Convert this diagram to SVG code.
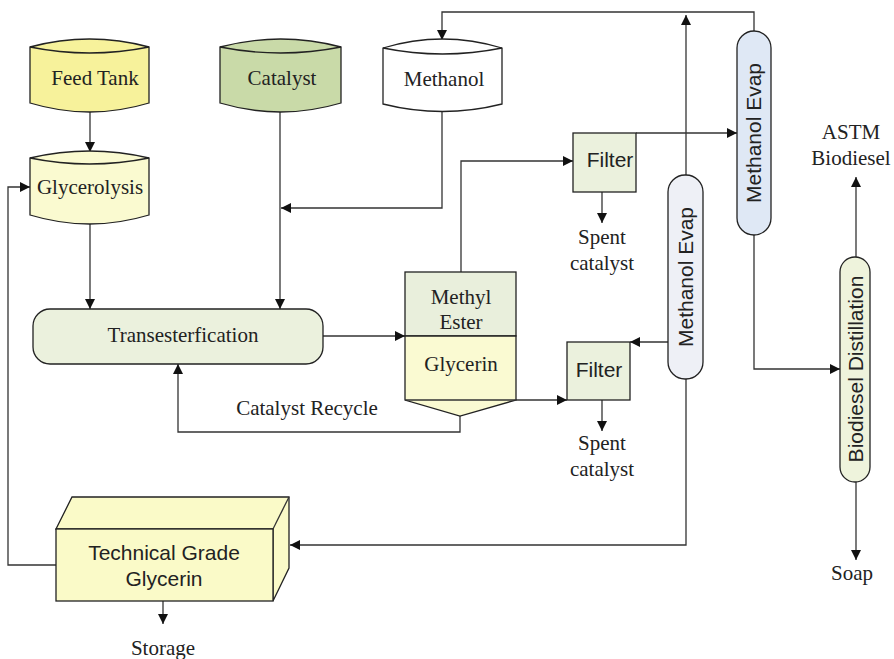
<svg xmlns="http://www.w3.org/2000/svg" width="894" height="659" viewBox="0 0 894 659">
  <defs>
    <marker id="arrow" viewBox="0 0 10 10" refX="10" refY="5" markerWidth="10" markerHeight="10" markerUnits="userSpaceOnUse" orient="auto">
      <path d="M0,0 L10,5 L0,10 Z" fill="#111"/>
    </marker>
    <style>
      .shape { stroke: #222; stroke-width: 1.3; }
      .lens { fill: none; stroke: #222; stroke-width: 1.3; }
      .conn { fill: none; stroke: #333; stroke-width: 1.3; }
      .arr { marker-end: url(#arrow); }
      .serif { font-family: "Liberation Serif", "Times New Roman", serif; font-size: 21px; fill: #222; text-anchor: middle; }
      .sans { font-family: "Liberation Sans", Arial, sans-serif; font-size: 21px; fill: #222; text-anchor: middle; }
    </style>
  </defs>

  <rect width="894" height="659" fill="#ffffff"/>

  <!-- connectors -->
  <g id="connectors">
    <path class="conn arr" d="M90,112 V152"/>
    <path class="conn arr" d="M280,112 V309"/>
    <path class="conn arr" d="M442,111 V208 H281"/>
    <path class="conn arr" d="M90,224 V309"/>
    <path class="conn arr" d="M323,336 H405"/>
    <path class="conn arr" d="M460,416 V432 H178 V364"/>
    <path class="conn arr" d="M461,272 V161 H573"/>
    <path class="conn arr" d="M602,192 V223"/>
    <path class="conn arr" d="M636,133 H737"/>
    <path class="conn arr" d="M754,31 V12 H442 V40"/>
    <path class="conn arr" d="M754,235 V369 H840"/>
    <path class="conn arr" d="M686,175 V15"/>
    <path class="conn arr" d="M668,342 H630"/>
    <path class="conn arr" d="M516,400 H567"/>
    <path class="conn arr" d="M602,400 V431"/>
    <path class="conn arr" d="M686,379 V545 H290"/>
    <path class="conn arr" d="M56,565 H8 V187 H30"/>
    <path class="conn arr" d="M163,601 V624"/>
    <path class="conn arr" d="M856,257 V177"/>
    <path class="conn arr" d="M856,482 V560"/>
  </g>

  <!-- storage drums -->
  <g id="feed-tank">
    <path class="shape" fill="#f7f29b" d="M30,47 Q89.5,31 149,47 L149,103 Q89.5,121 30,103 Z"/>
    <path class="lens" d="M30,47 Q89.5,59 149,47"/>
    <text class="serif" x="95" y="85">Feed Tank</text>
  </g>
  <g id="catalyst">
    <path class="shape" fill="#c9daa8" d="M220,47 Q280.5,31 341,47 L341,103 Q280.5,121 220,103 Z"/>
    <path class="lens" d="M220,47 Q280.5,59 341,47"/>
    <text class="serif" x="282" y="85">Catalyst</text>
  </g>
  <g id="methanol">
    <path class="shape" fill="#ffffff" d="M383,48 Q442.5,30 502,48 L502,104 Q442.5,119 383,104 Z"/>
    <path class="lens" d="M383,48 Q442.5,60 502,48"/>
    <text class="serif" x="444" y="86">Methanol</text>
  </g>
  <g id="glycerolysis">
    <path class="shape" fill="#fafad0" d="M30,158 Q89.5,144 149,158 L149,215 Q89.5,233 30,215 Z"/>
    <path class="lens" d="M30,158 Q89.5,170 149,158"/>
    <text class="serif" x="90" y="194">Glycerolysis</text>
  </g>

  <!-- reactor -->
  <g id="transesterification">
    <rect class="shape" fill="#ebf1dd" x="33" y="309" width="290" height="55" rx="17" ry="17"/>
    <text class="serif" x="183" y="342">Transesterfication</text>
  </g>

  <!-- settling tank -->
  <g id="settling-tank">
    <rect class="shape" fill="#e9efdc" x="405" y="272" width="111" height="64"/>
    <path class="shape" fill="#fafad2" d="M405,336 H516 V400 L460,416 L405,400 Z"/>
    <path class="conn" d="M405,400 H516"/>
    <text class="serif" x="461" y="304">Methyl</text>
    <text class="serif" x="461" y="329">Ester</text>
    <text class="serif" x="461" y="371">Glycerin</text>
  </g>

  <!-- filters -->
  <g id="filter-top">
    <rect class="shape" fill="#ebf1dd" x="573" y="133" width="63" height="59"/>
    <text class="sans" x="610" y="167">Filter</text>
    <text class="serif" x="602" y="244">Spent</text>
    <text class="serif" x="602" y="270">catalyst</text>
  </g>
  <g id="filter-bottom">
    <rect class="shape" fill="#ebf1dd" x="567" y="342" width="63" height="58"/>
    <text class="sans" x="599" y="377">Filter</text>
    <text class="serif" x="602" y="450">Spent</text>
    <text class="serif" x="602" y="476">catalyst</text>
  </g>

  <!-- evaporators and distillation column -->
  <g id="methanol-evap-top">
    <rect class="shape" fill="#dfe8f5" x="737" y="31" width="34" height="204" rx="17" ry="17"/>
    <text class="sans" transform="translate(761,133) rotate(-90)" x="0" y="0">Methanol Evap</text>
  </g>
  <g id="methanol-evap-lower">
    <rect class="shape" fill="#eef0f6" x="668" y="175" width="35" height="204" rx="17" ry="17"/>
    <text class="sans" transform="translate(693,277) rotate(-90)" x="0" y="0">Methanol Evap</text>
  </g>
  <g id="biodiesel-distillation">
    <rect class="shape" fill="#eef3dc" x="840" y="257" width="30" height="225" rx="15" ry="15"/>
    <text class="sans" transform="translate(863,369) rotate(-90)" x="0" y="0">Biodiesel Distillation</text>
    <text class="serif" x="851" y="139">ASTM</text>
    <text class="serif" x="851" y="165">Biodiesel</text>
    <text class="serif" x="852" y="580">Soap</text>
  </g>

  <!-- glycerin product box -->
  <g id="technical-glycerin">
    <path class="shape" fill="#fafac8" d="M56,529 L72,497 L289,497 L289,568 L273,601 L273,529 Z"/>
    <path class="conn" d="M273,529 L289,497"/>
    <rect class="shape" fill="#fafac8" x="56" y="529" width="217" height="72"/>
    <text class="sans" x="164" y="560">Technical Grade</text>
    <text class="sans" x="164" y="586">Glycerin</text>
    <text class="serif" x="163" y="655">Storage</text>
  </g>

  <g id="recycle-label">
    <text class="serif" x="307" y="415">Catalyst Recycle</text>
  </g>
</svg>
